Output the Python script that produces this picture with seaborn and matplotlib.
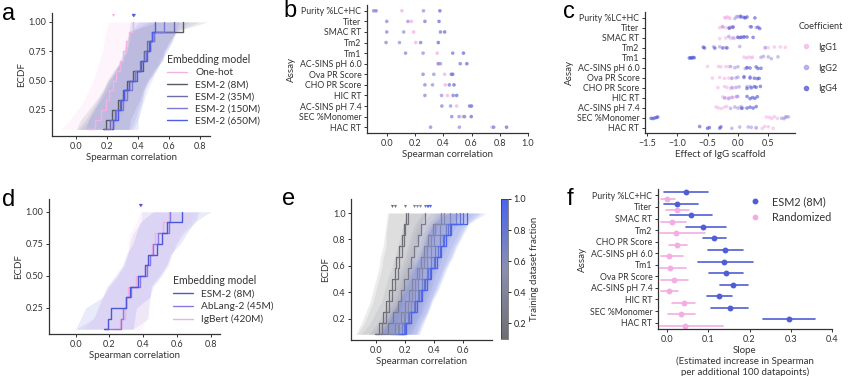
import matplotlib
matplotlib.use("Agg")
import matplotlib.pyplot as plt
import matplotlib.colors as mcolors
from matplotlib.lines import Line2D
import numpy as np
import pandas as pd
import seaborn as sns

W, H = 849, 376

# ---------------------------------------------------------------- data ----
assays = ["Purity %LC+HC", "Titer", "SMAC RT", "Tm2", "Tm1", "AC-SINS pH 6.0",
          "Ova PR Score", "CHO PR Score", "HIC RT", "AC-SINS pH 7.4",
          "SEC %Monomer", "HAC RT"]

# a: per-assay Spearman, one list per embedding model
a_models = ["One-hot", "ESM-2 (8M)", "ESM-2 (35M)", "ESM-2 (150M)", "ESM-2 (650M)"]
a_colors = ["#f3b2e3", "#5b5b68", "#6c6ca6", "#7b78d8", "#4d5fe6"]
a_onehot = [0.07, 0.12, 0.16, 0.19, 0.21, 0.24, 0.26, 0.28, 0.30, 0.32, 0.34, 0.37]
a_esm8 = [0.17, 0.19, 0.23, 0.27, 0.30, 0.33, 0.37, 0.43, 0.44, 0.47, 0.49, 0.69]
a_esm35 = [0.18, 0.22, 0.25, 0.28, 0.31, 0.34, 0.38, 0.41, 0.44, 0.46, 0.50, 0.63]
a_esm150 = [0.20, 0.24, 0.26, 0.30, 0.33, 0.36, 0.38, 0.42, 0.45, 0.48, 0.50, 0.57]
a_esm650 = [0.23, 0.24, 0.27, 0.29, 0.31, 0.34, 0.39, 0.42, 0.46, 0.48, 0.49, 0.51]
a_ci = [0.17, 0.16, 0.15, 0.14, 0.13, 0.13, 0.13, 0.13, 0.13, 0.14, 0.15, 0.16]

# b: Spearman per assay for each model
b_onehot = [0.107, 0.174, 0.19, 0.205, 0.357, 0.37, 0.41, 0.414, 0.43, 0.495, 0.538, 0.745]
b_esm8 = [-0.093, 0.0, 0.0, -0.005, 0.133, 0.364, 0.257, 0.27, 0.27, 0.39, 0.46, 0.31]
b_esm35 = [0.26, 0.15, 0.12, 0.09, 0.257, 0.38, 0.333, 0.324, 0.388, 0.452, 0.512, 0.514]
b_esm150 = [-0.076, 0.27, 0.38, 0.24, 0.467, 0.52, 0.457, 0.443, 0.47, 0.586, 0.55, 0.757]
b_esm650 = [0.376, 0.37, 0.41, 0.365, 0.543, 0.567, 0.467, 0.476, 0.495, 0.60, 0.598, 0.848]
b_colors = ["#f3b2e3", "#8f86d8", "#9c92e0", "#7f7ad6", "#6a6ee0"]

# c: effect of IgG scaffold, five estimates per assay and scaffold
c_igg1 = [[-0.22, -0.20, -0.18, -0.15, -0.13], [-0.30, -0.26, -0.20, -0.12, -0.08],
          [-0.30, -0.20, -0.12, -0.05, 0.00], [0.45, 0.50, 0.60, 0.70, 0.78],
          [0.10, 0.14, 0.18, 0.22, 0.24], [-0.50, -0.32, -0.28, -0.20, -0.15],
          [-0.42, -0.30, -0.22, -0.15, -0.10], [-0.33, -0.22, -0.18, -0.12, -0.08],
          [-0.25, -0.20, -0.15, -0.08, -0.03], [-0.36, -0.32, -0.27, -0.22, -0.18],
          [0.47, 0.52, 0.56, 0.60, 0.65], [0.30, 0.40, 0.44, 0.50, 0.58]]
c_igg2 = [[-0.05, -0.02, 0.00, 0.03, 0.05], [-0.25, -0.15, -0.10, 0.20, 0.30],
          [-0.15, -0.08, 0.02, 0.06, 0.10], [-0.40, -0.30, -0.20, 0.03, 0.45],
          [0.38, 0.42, 0.50, 0.55, 0.66], [-0.12, -0.05, 0.00, 0.12, 0.15],
          [-0.10, -0.03, 0.00, 0.10, 0.20], [-0.10, -0.03, 0.02, 0.15, 0.20],
          [-0.22, -0.15, -0.10, -0.02, 0.00], [-0.12, -0.05, 0.00, 0.05, 0.08],
          [0.72, 0.76, 0.78, 0.80, 0.83], [-0.10, 0.03, 0.17, 0.22, 0.30]]
c_igg4 = [[0.05, 0.10, 0.12, 0.15, 0.28], [-0.14, -0.08, 0.22, 0.33, 0.36],
          [0.00, 0.05, 0.10, 0.15, 0.25], [-0.57, -0.55, -0.38, -0.25, -0.18],
          [-0.80, -0.78, -0.76, -0.74, -0.72], [0.15, 0.20, 0.30, 0.33, 0.38],
          [0.10, 0.20, 0.27, 0.32, 0.35], [0.15, 0.22, 0.27, 0.30, 0.37],
          [0.15, 0.20, 0.24, 0.28, 0.32], [0.06, 0.15, 0.20, 0.25, 0.30],
          [-1.43, -1.40, -1.37, -1.34, -1.32], [-0.63, -0.50, -0.47, -0.30, -0.28]]
c_colors = ["#f5b4e6", "#a796e6", "#4d52d6"]

# d: antibody-specific language models
d_models = ["ESM-2 (8M)", "AbLang-2 (45M)", "IgBert (420M)"]
d_colors = ["#4d58d8", "#8b7ae6", "#f2b0e2"]
d_esm8 = [0.17, 0.19, 0.21, 0.30, 0.32, 0.37, 0.41, 0.43, 0.48, 0.51, 0.54, 0.63]
d_ablang = [0.17, 0.27, 0.28, 0.30, 0.33, 0.38, 0.42, 0.44, 0.46, 0.49, 0.55, 0.56]
d_igbert = [0.22, 0.26, 0.29, 0.30, 0.31, 0.36, 0.41, 0.44, 0.45, 0.47, 0.52, 0.55]
d_ci = [0.17, 0.16, 0.15, 0.14, 0.13, 0.13, 0.13, 0.13, 0.14, 0.15, 0.16, 0.17]

# e: training set fraction
e_fracs = [0.1, 0.2, 0.3, 0.4, 0.5, 0.6, 0.7, 0.8, 0.9, 1.0]
e_f01 = [-0.01, 0.02, 0.05, 0.07, 0.09, 0.11, 0.13, 0.14, 0.16, 0.18, 0.19, 0.21]
e_f02 = [0.00, 0.04, 0.07, 0.09, 0.11, 0.13, 0.15, 0.16, 0.18, 0.19, 0.20, 0.22]
e_f03 = [0.03, 0.08, 0.12, 0.15, 0.17, 0.19, 0.22, 0.24, 0.26, 0.29, 0.31, 0.34]
e_f04 = [0.08, 0.13, 0.17, 0.20, 0.23, 0.25, 0.28, 0.31, 0.33, 0.36, 0.39, 0.45]
e_f05 = [0.10, 0.15, 0.19, 0.22, 0.25, 0.27, 0.30, 0.33, 0.35, 0.38, 0.41, 0.47]
e_f06 = [0.12, 0.16, 0.20, 0.24, 0.27, 0.29, 0.32, 0.35, 0.38, 0.40, 0.44, 0.51]
e_f07 = [0.14, 0.18, 0.22, 0.26, 0.29, 0.32, 0.35, 0.38, 0.41, 0.44, 0.48, 0.55]
e_f08 = [0.15, 0.19, 0.23, 0.27, 0.30, 0.33, 0.36, 0.40, 0.43, 0.46, 0.50, 0.58]
e_f09 = [0.16, 0.20, 0.24, 0.27, 0.31, 0.34, 0.37, 0.41, 0.44, 0.47, 0.51, 0.60]
e_f10 = [0.17, 0.21, 0.24, 0.28, 0.32, 0.35, 0.38, 0.42, 0.45, 0.48, 0.52, 0.63]
e_ci = [0.13, 0.12, 0.12, 0.11, 0.11, 0.11, 0.11, 0.11, 0.11, 0.12, 0.12, 0.13]

# f: learning-curve slopes
f_assays = ["Purity %LC+HC", "Titer", "SMAC RT", "Tm2", "CHO PR Score",
            "AC-SINS pH 6.0", "Tm1", "Ova PR Score", "AC-SINS pH 7.4", "HIC RT",
            "SEC %Monomer", "HAC RT"]
f_esm = [0.045, 0.024, 0.058, 0.088, 0.114, 0.140, 0.138, 0.142, 0.160, 0.127, 0.152, 0.295]
f_esm_lo = [-0.008, -0.008, 0.006, 0.045, 0.086, 0.100, 0.075, 0.101, 0.128, 0.097, 0.106, 0.232]
f_esm_hi = [0.100, 0.075, 0.110, 0.144, 0.142, 0.183, 0.208, 0.185, 0.197, 0.157, 0.197, 0.358]
f_rand = [0.000, 0.025, 0.013, 0.021, 0.024, 0.004, 0.006, 0.016, 0.004, 0.041, 0.033, 0.043]
f_rand_lo = [-0.014, -0.003, -0.014, -0.018, 0.005, -0.014, -0.018, -0.014, -0.014, 0.011, 0.002, -0.018]
f_rand_hi = [0.019, 0.054, 0.047, 0.092, 0.049, 0.039, 0.045, 0.051, 0.027, 0.067, 0.067, 0.136]
f_colors = ["#4f5ed6", "#f2aee2"]

# ---------------------------------------------------------------- style ---
sns.set_theme(style="ticks")
plt.rcParams["font.family"] = ["Lato", "DejaVu Sans"]
plt.rcParams["text.color"] = "#333333"
plt.rcParams["axes.labelcolor"] = "#333333"
TICK = 6.5
YCAT = 6.3
LAB = 7.0
LEG = 7.3

fig = plt.figure(figsize=(W / 100, H / 100), dpi=100)


def add_ax(x0, y0, x1, y1):
    return fig.add_axes([x0 / W, 1 - y1 / H, (x1 - x0) / W, (y1 - y0) / H])


def style(ax):
    sns.despine(ax=ax)
    for s in ("left", "bottom"):
        ax.spines[s].set_linewidth(0.9)
        ax.spines[s].set_color("#333333")
    ax.tick_params(length=2.5, width=0.7, labelsize=TICK, pad=1.5, colors="#333333")


def ecdf(ax, series, colors, ci, lw=1.0, alpha=0.12):
    ci = np.asarray(ci)
    for vals, col in zip(series, colors):
        x = np.sort(vals)
        y = np.arange(1, len(x) + 1) / len(x)
        ax.fill_betweenx(y, x - ci, x + ci, color=col, alpha=alpha, lw=0)
        ax.step(x, y, where="post", color=col, lw=lw)
        ax.scatter([np.mean(vals)], [1.055], marker="v", s=5, color=col, lw=0, zorder=3)


def panel_label(x, y, s):
    fig.text(x / W, 1 - y / H, s, fontsize=17, family="Liberation Sans",
             color="black", va="baseline", ha="left")


# ---- a ----
ax = add_ax(52, 13, 210, 136)
ecdf(ax, [a_onehot, a_esm8, a_esm35, a_esm150, a_esm650], a_colors, a_ci)
ax.set_xlim(-0.157, 0.865)
ax.set_ylim(0.027, 1.076)
ax.set_xticks([0.0, 0.2, 0.4, 0.6, 0.8])
ax.set_yticks([0.25, 0.5, 0.75, 1.0])
ax.set_yticklabels(["0.25", "0.50", "0.75", "1.00"])
ax.set_xlabel("Spearman correlation", fontsize=LAB, labelpad=2)
ax.set_ylabel("ECDF", fontsize=LAB, labelpad=2)
style(ax)
hd = [Line2D([], [], color=c, lw=1.0) for c in a_colors]
leg = ax.legend(hd, a_models, title="Embedding model", loc="upper left",
                bbox_to_anchor=(0.70, 0.70), frameon=False, fontsize=LEG,
                title_fontsize=LEG + 0.3, handlelength=2.0, labelspacing=0.3,
                handletextpad=0.8, borderaxespad=0)
leg._legend_box.align = "left"
panel_label(2, 20, "a")

# ---- b ----
ax = add_ax(367, 5, 528, 133)
b_df = pd.DataFrame({
    "Assay": assays * 5,
    "Spearman": b_onehot + b_esm8 + b_esm35 + b_esm150 + b_esm650,
    "Model": sum([[m] * len(assays) for m in a_models], []),
})
sns.stripplot(data=b_df, x="Spearman", y="Assay", hue="Model", order=assays,
              hue_order=a_models, palette=b_colors, jitter=False, size=2.6,
              alpha=0.75, linewidth=0, legend=False, ax=ax)
ax.set_xlim(-0.14, 1.0)
ax.set_ylim(11.55, -0.55)
ax.set_xticks([0.0, 0.2, 0.4, 0.6, 0.8, 1.0])
ax.set_xlabel("Spearman correlation", fontsize=LAB, labelpad=2)
ax.set_ylabel("Assay", fontsize=LAB, labelpad=2)
style(ax)
ax.tick_params(axis="y", labelsize=YCAT)
panel_label(283, 17, "b")

# ---- c ----
ax = add_ax(645, 12, 795, 133)
igg_names = ["IgG1", "IgG2", "IgG4"]
rows = []
for name, block in zip(igg_names, [c_igg1, c_igg2, c_igg4]):
    for assay, vals in zip(assays, block):
        for v in vals:
            rows.append((assay, v, name))
c_df = pd.DataFrame(rows, columns=["Assay", "Effect", "Coefficient"])
np.random.seed(3)
sns.stripplot(data=c_df, x="Effect", y="Assay", hue="Coefficient", order=assays,
              hue_order=igg_names, palette=c_colors, jitter=0.12, size=2.6,
              alpha=0.6, linewidth=0, legend=False, ax=ax)
ax.set_xlim(-1.53, 0.94)
ax.set_ylim(11.55, -0.55)
ax.set_xticks([-1.5, -1.0, -0.5, 0.0, 0.5])
ax.set_xlabel("Effect of IgG scaffold", fontsize=LAB, labelpad=2)
ax.set_ylabel("Assay", fontsize=LAB, labelpad=2)
style(ax)
ax.tick_params(axis="y", labelsize=YCAT)
hd = [Line2D([], [], marker="o", ls="none", color=c, markersize=3, alpha=0.7)
      for c in c_colors]
leg = ax.legend(hd, igg_names, title="Coefficient", loc="upper left",
                bbox_to_anchor=(1.0, 0.95), frameon=False, fontsize=6.6,
                title_fontsize=6.6, labelspacing=1.3, handletextpad=0.5,
                handlelength=1.6, borderaxespad=0)
leg._legend_box.align = "left"
panel_label(563, 18, "c")

# ---- d ----
ax = add_ax(49, 199, 220, 334)
ecdf(ax, [d_igbert, d_ablang, d_esm8], d_colors[::-1], d_ci)
ax.set_xlim(-0.158, 0.855)
ax.set_ylim(0.046, 1.10)
ax.set_xticks([0.0, 0.2, 0.4, 0.6, 0.8])
ax.set_yticks([0.25, 0.5, 0.75, 1.0])
ax.set_yticklabels(["0.25", "0.50", "0.75", "1.00"])
ax.set_xlabel("Spearman correlation", fontsize=LAB, labelpad=2)
ax.set_ylabel("ECDF", fontsize=LAB, labelpad=2)
style(ax)
hd = [Line2D([], [], color=c, lw=1.0) for c in d_colors]
leg = ax.legend(hd, d_models, title="Embedding model", loc="upper left",
                bbox_to_anchor=(0.70, 0.47), frameon=False, fontsize=LEG,
                title_fontsize=LEG + 0.3, handlelength=2.0, labelspacing=0.35,
                handletextpad=0.8, borderaxespad=0)
leg._legend_box.align = "left"
panel_label(2, 206, "d")

# ---- e ----
ax = add_ax(351, 199, 492, 340)
cmap = mcolors.LinearSegmentedColormap.from_list("frac", ["#6e6e72", "#8a8fb0", "#4a63f0"])
norm = mcolors.Normalize(0.1, 1.0)
e_curves = [e_f01, e_f02, e_f03, e_f04, e_f05, e_f06, e_f07, e_f08, e_f09, e_f10]
ecdf(ax, e_curves, [cmap(norm(f)) for f in e_fracs], e_ci, lw=0.9, alpha=0.12)
ax.set_xlim(-0.172, 0.8)
ax.set_ylim(0.04, 1.106)
ax.set_xticks([0.0, 0.2, 0.4, 0.6])
ax.set_yticks([0.2, 0.4, 0.6, 0.8, 1.0])
ax.set_xlabel("Spearman correlation", fontsize=LAB, labelpad=2)
ax.set_ylabel("ECDF", fontsize=LAB, labelpad=2)
style(ax)
cax = add_ax(501, 199, 508, 339)
cb = fig.colorbar(plt.cm.ScalarMappable(norm=norm, cmap=cmap), cax=cax)
cb.outline.set_linewidth(0.4)
cb.set_ticks([0.2, 0.4, 0.6, 0.8, 1.0])
cb.ax.tick_params(labelsize=TICK, length=2.5, width=0.7, pad=1.5)
cb.set_label("Training dataset fraction", fontsize=LAB, labelpad=3)
panel_label(282, 205, "e")

# ---- f ----
ax = add_ax(658, 189, 832, 329)
f_rows = []
for lab, mid, lo, hi in [("ESM2 (8M)", f_esm, f_esm_lo, f_esm_hi),
                         ("Randomized", f_rand, f_rand_lo, f_rand_hi)]:
    for a, m, l, h in zip(f_assays, mid, lo, hi):
        for v in (l, m, h):
            f_rows.append((a, v, lab))
f_df = pd.DataFrame(f_rows, columns=["Assay", "Slope", "Model"])
sns.pointplot(data=f_df, x="Slope", y="Assay", hue="Model", order=f_assays,
              hue_order=["ESM2 (8M)", "Randomized"], palette=f_colors,
              estimator="median", errorbar=("pi", 100), dodge=0.55,
              orient="h", linestyle="none", markersize=2.2,
              err_kws={"linewidth": 1.2}, legend=False, ax=ax)
ax.set_xlim(-0.022, 0.4)
ax.set_ylim(11.55, -0.55)
ax.set_xticks([0.0, 0.1, 0.2, 0.3, 0.4])
ax.set_xlabel("Slope\n(Estimated increase in Spearman\nper additional 100 datapoints)",
              fontsize=LAB, labelpad=2)
ax.set_ylabel("Assay", fontsize=LAB, labelpad=2)
style(ax)
ax.tick_params(axis="y", labelsize=YCAT)
hd = [Line2D([], [], marker="o", ls="none", color=c, markersize=3.2) for c in f_colors]
ax.legend(hd, ["ESM2 (8M)", "Randomized"], loc="upper left",
          bbox_to_anchor=(0.47, 0.98), frameon=False, fontsize=LEG + 0.5,
          labelspacing=0.45, handletextpad=0.6, borderaxespad=0)
panel_label(567, 205, "f")

fig.savefig("out.png", dpi=100)
